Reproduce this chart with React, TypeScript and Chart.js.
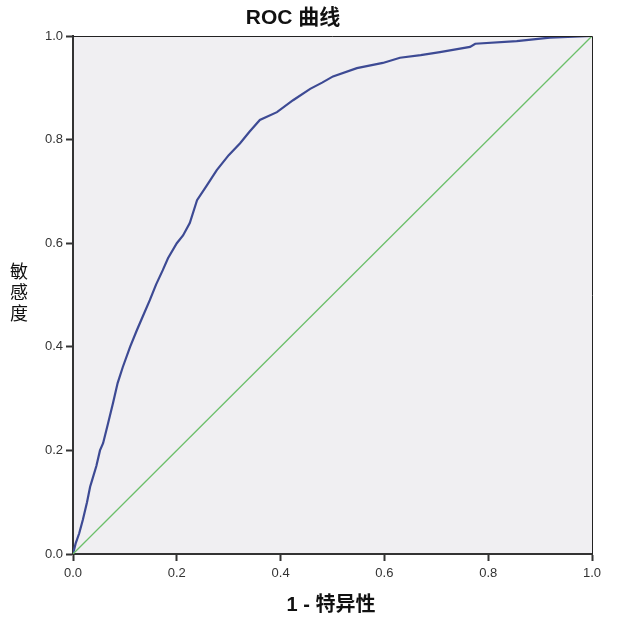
import React, { useEffect, useRef } from "react";
import { Chart, registerables } from "chart.js";

Chart.register(...registerables);

const titleText = "ROC 曲线";
const xTitle = "1 - 特异性";
const yTitleChars = ["敏", "感", "度"];
const tickValues = [0, 0.2, 0.4, 0.6, 0.8, 1.0];

const rocFpr = [0, 0.005, 0.012, 0.019, 0.027, 0.033, 0.037, 0.045, 0.052, 0.058, 0.067, 0.077, 0.086, 0.096, 0.11, 0.123, 0.135, 0.148, 0.16, 0.173, 0.183, 0.2, 0.212, 0.225, 0.239, 0.257, 0.277, 0.3, 0.322, 0.34, 0.36, 0.393, 0.424, 0.457, 0.48, 0.501, 0.547, 0.597, 0.63, 0.67, 0.707, 0.765, 0.775, 0.855, 0.919, 1.0];
const rocTpr = [0, 0.02, 0.04, 0.066, 0.1, 0.13, 0.143, 0.17, 0.2, 0.214, 0.25, 0.291, 0.33, 0.361, 0.4, 0.432, 0.46, 0.49, 0.52, 0.548, 0.571, 0.6, 0.615, 0.639, 0.683, 0.71, 0.741, 0.77, 0.793, 0.815, 0.838, 0.853, 0.876, 0.898, 0.91, 0.922, 0.938, 0.948, 0.958, 0.963, 0.969, 0.979, 0.985, 0.99, 0.997, 1.0];
const refX = [0, 1];
const refY = [0, 1];

const decorPlugin = {
  id: "decor",
  beforeDraw(chart: any) {
    const { ctx, chartArea } = chart;
    ctx.save();
    ctx.fillStyle = "#ffffff";
    ctx.fillRect(0, 0, chart.width, chart.height);
    ctx.fillStyle = "#f0eff2";
    ctx.fillRect(chartArea.left, chartArea.top, chartArea.right - chartArea.left, chartArea.bottom - chartArea.top);
    ctx.restore();
  },
  afterDraw(chart: any) {
    const { ctx, chartArea } = chart;
    ctx.save();
    ctx.strokeStyle = "#222222";
    ctx.lineWidth = 1;
    ctx.beginPath();
    ctx.moveTo(chartArea.left, chartArea.top + 0.5);
    ctx.lineTo(chartArea.right + 0.5, chartArea.top + 0.5);
    ctx.lineTo(chartArea.right + 0.5, chartArea.bottom);
    ctx.stroke();

    ctx.fillStyle = "#111111";
    ctx.textAlign = "center";
    ctx.textBaseline = "middle";
    ctx.font = "bold 21px 'Liberation Sans', 'Noto Sans CJK SC', sans-serif";
    ctx.fillText(titleText, 293, 18);
    ctx.font = "bold 20px 'Liberation Sans', 'Noto Sans CJK SC', sans-serif";
    ctx.fillText(xTitle, 331, 605);
    ctx.font = "18px 'Noto Sans CJK SC', sans-serif";
    yTitleChars.forEach((c, i) => {
      ctx.fillText(c, 19, 271 + i * 21);
    });
    ctx.restore();
  },
};

export default function App() {
  const ref = useRef<HTMLCanvasElement>(null);
  useEffect(() => {
    document.body.style.margin = "0";
    const canvas = ref.current!;
    const tickFont = { family: "'Liberation Sans', Arial, sans-serif", size: 13 };
    const chart = new Chart(canvas, {
      type: "scatter",
      data: {
        datasets: [
          {
            data: refX.map((x, i) => ({ x, y: refY[i] })),
            showLine: true,
            borderColor: "#6cbf6a",
            borderWidth: 1.3,
            pointRadius: 0,
          },
          {
            data: rocFpr.map((x, i) => ({ x, y: rocTpr[i] })),
            showLine: true,
            borderColor: "#3d4a94",
            borderWidth: 2.2,
            pointRadius: 0,
          },
        ],
      },
      options: {
        animation: false,
        responsive: false,
        devicePixelRatio: 1,
        layout: { padding: { left: 0, top: 36, right: 30, bottom: 0 } },
        plugins: { legend: { display: false }, tooltip: { enabled: false } },
        scales: {
          x: {
            type: "linear",
            min: 0,
            max: 1,
            afterFit(scale: any) { scale.height = 70; },
            afterBuildTicks(scale: any) { scale.ticks = tickValues.map((v) => ({ value: v })); },
            ticks: { font: tickFont, color: "#333333", padding: 5, callback: (v: any) => Number(v).toFixed(1), maxRotation: 0 },
            grid: { drawOnChartArea: false, drawTicks: true, tickLength: 7, tickColor: "#333333", tickWidth: 2 },
            border: { display: true, color: "#333333", width: 2 },
          },
          y: {
            type: "linear",
            min: 0,
            max: 1,
            afterFit(scale: any) { scale.width = 73; },
            afterBuildTicks(scale: any) { scale.ticks = tickValues.map((v) => ({ value: v })); },
            ticks: { font: tickFont, color: "#333333", padding: 3, callback: (v: any) => Number(v).toFixed(1) },
            grid: { drawOnChartArea: false, drawTicks: true, tickLength: 7, tickColor: "#333333", tickWidth: 2 },
            border: { display: true, color: "#333333", width: 2 },
          },
        },
      },
      plugins: [decorPlugin],
    } as any);
    return () => chart.destroy();
  }, []);
  return (
    <div style={{ position: "absolute", left: 0, top: 0, width: 622, height: 624 }}>
      <canvas ref={ref} width={622} height={624} style={{ width: 622, height: 624 }} />
    </div>
  );
}
